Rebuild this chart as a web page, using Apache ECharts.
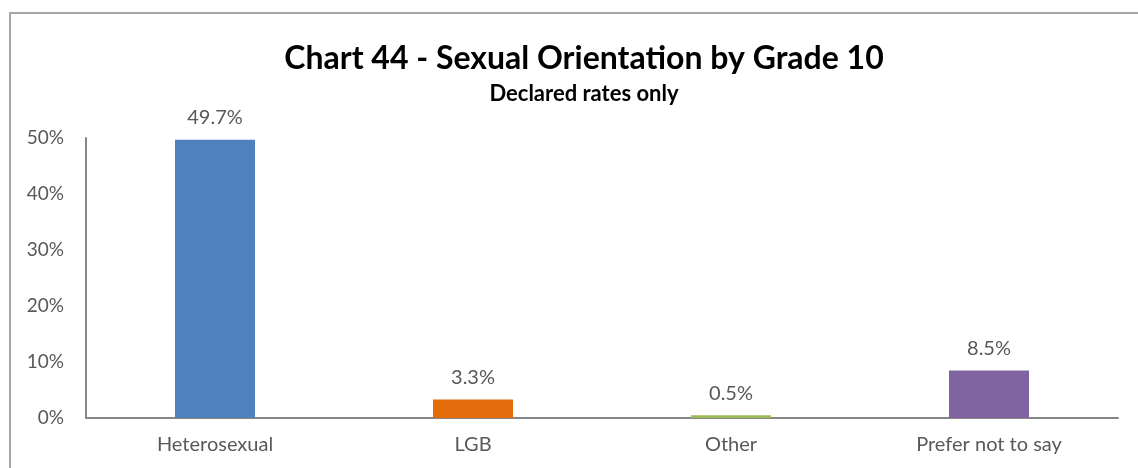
<!DOCTYPE html>
<html>
<head>
<meta charset="utf-8">
<script src="https://cdn.jsdelivr.net/npm/echarts@6/dist/echarts.min.js"></script>
<style>
html,body{margin:0;padding:0;background:#fff;}
#chart{width:1138px;height:468px;}
</style>
</head>
<body>
<div id="chart"></div>
<script>
const categories = ['Heterosexual', 'LGB', 'Other', 'Prefer not to say'];
const values = [49.7, 3.3, 0.5, 8.5];
const barColors = ['#4F81BD', '#E46C0A', '#9BBB59', '#8064A2'];
const titleText = 'Chart 44 - Sexual Orientation by Grade 10';
const subtitleText = 'Declared rates only';

const chart = echarts.init(document.getElementById('chart'), null, {renderer: 'canvas'});
chart.setOption({
  animation: false,
  backgroundColor: '#ffffff',
  graphic: [{
    type: 'rect',
    shape: {x: 10, y: 13, width: 1400, height: 800},
    style: {fill: 'none', stroke: '#A6A6A6', lineWidth: 2},
    silent: true
  }],
  title: {
    text: titleText,
    subtext: subtitleText,
    left: 579,
    textAlign: 'center',
    top: 38,
    itemGap: 8,
    textStyle: {fontFamily: 'Lato', fontWeight: 'bold', fontSize: 32, color: '#000000'},
    subtextStyle: {fontFamily: 'Lato', fontWeight: 'bold', fontSize: 22, color: '#000000'}
  },
  grid: {left: 86, right: 20, top: 138, bottom: 50, containLabel: false},
  xAxis: {
    type: 'category',
    data: categories,
    axisTick: {show: false},
    axisLine: {show: true, lineStyle: {color: '#868686', width: 2}},
    axisLabel: {color: '#595959', fontFamily: 'Lato', fontSize: 20, margin: 17}
  },
  yAxis: {
    type: 'value',
    min: 0, max: 50, interval: 10,
    axisLine: {show: true, lineStyle: {color: '#868686', width: 2}},
    axisTick: {show: false},
    splitLine: {show: false},
    axisLabel: {formatter: '{value}%', color: '#595959', fontFamily: 'Lato', fontSize: 19, margin: 22}
  },
  series: [{
    type: 'bar',
    barWidth: 80,
    data: values.map((v, i) => ({value: v, itemStyle: {color: barColors[i]}})),
    label: {
      show: true,
      position: 'top',
      distance: 12,
      formatter: p => p.value.toFixed(1) + '%',
      color: '#595959',
      fontFamily: 'Lato',
      fontSize: 20
    }
  }]
});
</script>
</body>
</html>
